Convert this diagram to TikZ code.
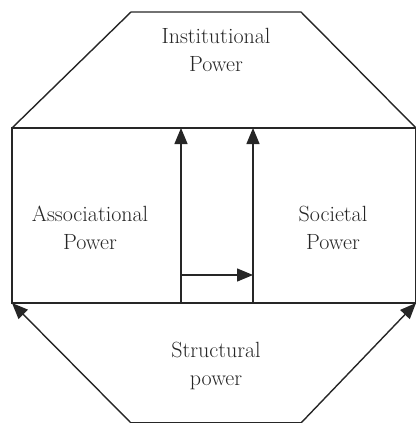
\documentclass[tikz,border=0pt]{standalone}
\usetikzlibrary{arrows.meta}
\usetikzlibrary{positioning}

\begin{document}
\begin{tikzpicture}[x=1pt, y=-1pt, line width=1.4pt, color={black!85},
    flow/.style={-{Triangle[length=16pt, width=13pt]}},
    label/.style={align=center, font=\fontsize{22}{28}\selectfont}]
  \useasboundingbox (0,0) rectangle (415,423);

  % Corners of the outline
  \coordinate (tl) at (131,12);
  \coordinate (tr) at (301,12);
  \coordinate (ml) at (12,128);
  \coordinate (mr) at (416,128);
  \coordinate (bl) at (12,303);
  \coordinate (br) at (416,303);
  \coordinate (sl) at (131,423);
  \coordinate (sr) at (301,423);

  % Top trapezoid and middle block
  \draw (ml) -- (tl) -- (tr) -- (mr);
  \draw (ml) -- (mr) -- (br) -- (bl) -- cycle;

  % Bottom trapezoid, arrows to the block corners
  \draw (sl) -- (sr);
  \draw[flow] (sl) -- (bl);
  \draw[flow] (sr) -- (br);

  % Inner column
  \coordinate (c1b) at (181,303);
  \coordinate (c1t) at (181,128);
  \coordinate (c2b) at (253,303);
  \coordinate (c2t) at (253,128);
  \coordinate (h1) at (181,275);
  \coordinate (h2) at (253,275);
  \draw[flow] (c1b) -- (c1t);
  \draw[flow] (c2b) -- (c2t);
  \draw[flow] (h1) -- (h2);

  % Labels
  \node[label] (inst) at (216,50) {Institutional\\Power};
  \node[label] (assoc) at (90,228) {Associational\\Power};
  \node[label] (soc) at (333,228) {Societal\\Power};
  \node[label] (struct) at (216,366) {Structural\\power};
\end{tikzpicture}
\end{document}
